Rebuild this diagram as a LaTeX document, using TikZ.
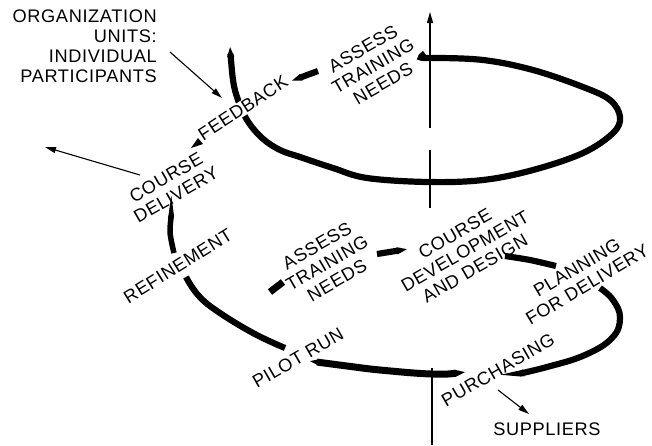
\documentclass[tikz,border=0pt]{standalone}
\usepackage{fontspec}
\setmainfont{Liberation Sans}[LetterSpace=3.5]
\usetikzlibrary{arrows.meta}
\begin{document}
\begin{tikzpicture}[x=1pt,y=-1pt,
  lbl/.style={font=\fontsize{18.2}{20}\selectfont, align=center, inner sep=1pt},
  band/.style={line width=6.2pt, line cap=butt},
  tipend/.style={-{Triangle[length=11pt,width=6.2pt]}},
  tipboth/.style={{Triangle[length=11pt,width=6.2pt]}-{Triangle[length=11pt,width=6.2pt]}},
  thinarrow/.style={line width=1.1pt, -{Triangle[length=11pt,width=6pt]}},
  axisline/.style={line width=1.1pt}]
\useasboundingbox (0,0) rectangle (652,445);

% vertical axis of the spiral
\coordinate (axTop) at (430,12);
\coordinate (axA) at (430,128);
\coordinate (axB) at (430,150);
\coordinate (axC) at (430,208);
\coordinate (axD) at (432,368);
\coordinate (axE) at (432,445);
\draw[axisline, -{Triangle[length=11pt,width=6pt]}] (axA) -- (axTop);
\draw[axisline] (axB) -- (axC);
\draw[axisline] (axD) -- (axE);

% upper turn of the spiral
\draw[band, tipboth] plot[smooth, tension=0.6] coordinates {
  (416,60) (430,58) (483,60) (533,70) (583,87) (610,100) (620,117)
  (613,133) (583,153) (533,170) (483,180) (428,182) (367,178)
  (333,168) (300,157) (280,150) (262,138) (247,120) (238,100)
  (233,80) (230,46)};

% labels
\node[lbl, anchor=east, align=right] (org) at (158,46)
  {ORGANIZATION\\UNITS:\\INDIVIDUAL\\PARTICIPANTS};
\node[lbl, rotate=30] (assessA) at (373,66) {ASSESS\\TRAINING\\NEEDS};
\node[lbl, rotate=33, fill=white] (feedback) at (243,108) {FEEDBACK};
\node[lbl, rotate=30] (delivery) at (171,186) {COURSE\\DELIVERY};
\node[lbl, rotate=32] (refine) at (178,266) {REFINEMENT};
\node[lbl, rotate=30] (pilot) at (298,358) {PILOT RUN};
\node[lbl, rotate=30] (assessB) at (327,263) {ASSESS\\TRAINING\\NEEDS};
\node[lbl, rotate=30] (design) at (465,251) {COURSE\\DEVELOPMENT\\AND DESIGN};
\node[lbl, rotate=31] (planning) at (582,276) {PLANNING\\FOR DELIVERY};
\node[lbl, rotate=30] (purchasing) at (498,370) {PURCHASING};
\node[lbl] (suppliers) at (547,429) {SUPPLIERS};

% lower turn of the spiral, broken by the labels
\coordinate (s0) at (270,292);
\coordinate (s1) at (283,282);
\draw[band, line width=7pt] (s0) -- (s1);

\coordinate (a0) at (377,254);
\coordinate (a1) at (408,249);
\draw[band, tipend] (a0) -- (a1);

\draw[band] plot[smooth] coordinates {(505,256) (530,260) (556,266)};

\draw[band, tipend] plot[smooth, tension=0.7] coordinates {
  (600,288) (613,300) (620,318) (612,338) (585,355) (547,367) (513,375)};

\draw[band, line width=7pt, tipboth] plot[smooth, tension=0.6] coordinates {
  (466,372) (432,374) (380,370) (347,366) (309,361)};

\draw[band] plot[smooth, tension=0.7] coordinates {
  (285,348) (253,333) (217,311) (198,295) (186,277)};

\draw[band, line width=5.5pt, -{Triangle[length=8pt,width=5.5pt]}] plot[smooth] coordinates {
  (174,253) (170,232) (172,210)};

% small arrowhead between course delivery and feedback
\coordinate (w0) at (191,148);
\coordinate (w1) at (198,138);
\coordinate (w2) at (203,144);
\fill (w0) -- (w1) -- (w2) -- cycle;

% short stroke from assess training needs to feedback
\coordinate (f0) at (318,71);
\coordinate (f1) at (291,81);
\draw[band, tipend] (f0) -- (f1);

% thin arrows to and from the surroundings
\coordinate (orgS) at (170,52);
\coordinate (orgE) at (222,98);
\draw[thinarrow] (orgS) -- (orgE);
\coordinate (outS) at (140,175);
\coordinate (outE) at (45,147);
\draw[thinarrow] (outS) -- (outE);
\coordinate (supS) at (498,390);
\coordinate (supE) at (529,414);
\draw[thinarrow] (supS) -- (supE);
\end{tikzpicture}
\end{document}
